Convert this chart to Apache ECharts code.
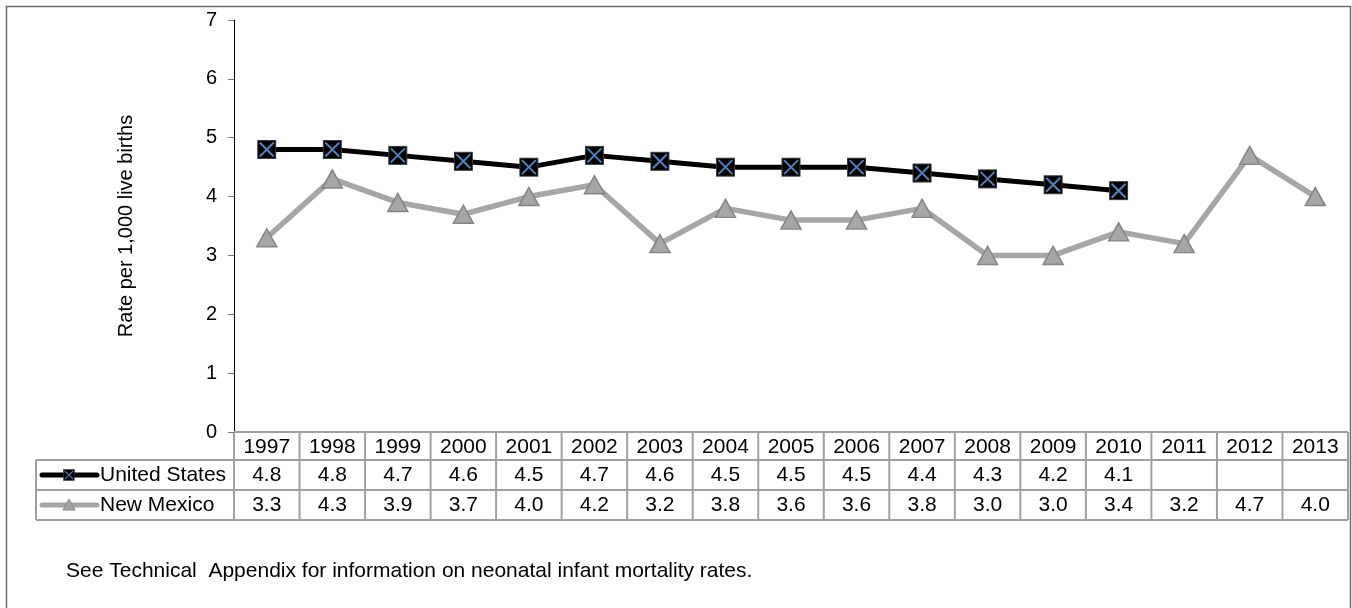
<!DOCTYPE html>
<html><head><meta charset="utf-8">
<script src="https://cdn.jsdelivr.net/npm/echarts@6/dist/echarts.min.js"></script>
<style>html,body{margin:0;padding:0;background:#fff}#c{width:1352px;height:608px}</style>
</head><body><div id="c"></div>
<script>
var years = ['1997','1998','1999','2000','2001','2002','2003','2004','2005','2006','2007','2008','2009','2010','2011','2012','2013'];
var unitedStates = [4.8,4.8,4.7,4.6,4.5,4.7,4.6,4.5,4.5,4.5,4.4,4.3,4.2,4.1,null,null,null];
var newMexico = [3.3,4.3,3.9,3.7,4.0,4.2,3.2,3.8,3.6,3.6,3.8,3.0,3.0,3.4,3.2,4.7,4.0];
var yTicks = {min:0, max:7, interval:1};
var seriesNames = ['United States','New Mexico'];
var yName = 'Rate per 1,000 live births';
var footnote = 'See Technical  Appendix for information on neonatal infant mortality rates.';

var FONT = 'Arial, "Liberation Sans", sans-serif';
var usSvg = "<svg xmlns='http://www.w3.org/2000/svg' width='20' height='20'><rect x='1' y='1' width='18' height='18' fill='black' stroke='#3a3a3a' stroke-width='1'/><path d='M3 3L17 17M17 3L3 17' stroke='#4f81bd' stroke-width='2'/></svg>";
var usSymbol = 'image://data:image/svg+xml;charset=utf-8,' + encodeURIComponent(usSvg);

var chart = echarts.init(document.getElementById('c'), null, {renderer:'canvas'});
var option = {
  animation:false,
  backgroundColor:'#fff',
  grid:{left:234, right:4, top:20, bottom:176, containLabel:false},
  xAxis:{type:'category', data:years, boundaryGap:true,
    axisLine:{show:false}, axisTick:{show:false}, axisLabel:{show:false}, splitLine:{show:false}},
  yAxis:{type:'value', min:yTicks.min, max:yTicks.max, interval:yTicks.interval,
    name:yName, nameLocation:'middle', nameGap:98, nameRotate:90,
    nameTextStyle:{fontFamily:FONT, fontSize:20, color:'#000'},
    axisLine:{show:true, lineStyle:{color:'#000', width:1}},
    axisTick:{show:true, length:6, lineStyle:{color:'#777'}},
    axisLabel:{fontFamily:FONT, fontSize:20, color:'#000', margin:17},
    splitLine:{show:false}},
  series:[
    {name:seriesNames[0], type:'line', data:unitedStates, symbol:usSymbol, symbolSize:20,
      lineStyle:{color:'#000', width:5}, itemStyle:{color:'#000'}, z:3},
    {name:seriesNames[1], type:'line', data:newMexico, symbol:'triangle', symbolSize:[20,18],
      lineStyle:{color:'#a6a6a6', width:5.5}, itemStyle:{color:'#a6a6a6', borderColor:'#858585', borderWidth:1.5}, z:2}
  ]
};
chart.setOption(option);

// build table from axis scale
var x0 = chart.convertToPixel({xAxisIndex:0}, 0);
var x1 = chart.convertToPixel({xAxisIndex:0}, 1);
var w = x1 - x0;
var left = x0 - w/2;
var right = left + w*years.length;
var yTop = chart.convertToPixel({yAxisIndex:0}, 0);
var rH = [yTop, yTop+28, yTop+58, yTop+88];
var legLeft = 36;
var G = [];
var lc = '#a0a0a0';
function hl(xa, xb, y){G.push({type:'line', shape:{x1:xa,y1:y,x2:xb,y2:y}, style:{stroke:lc, lineWidth:2}, z:1});}
function vl(x, ya, yb){G.push({type:'line', shape:{x1:x,y1:ya,x2:x,y2:yb}, style:{stroke:lc, lineWidth:2}, z:1});}
function txt(x, y, s, align, size){G.push({type:'text', x:x, y:y, style:{text:s, fill:'#000', font:(size||21)+'px '+FONT, textAlign:align||'center', textVerticalAlign:'middle'}, z:5});}
hl(left, right, rH[0]);
hl(legLeft, right, rH[1]);
hl(legLeft, right, rH[2]);
hl(legLeft, right, rH[3]);
vl(legLeft, rH[1], rH[3]);
for (var i=0;i<=years.length;i++){ vl(left + i*w, i===0?rH[0]+1:rH[0], rH[3]); }
years.forEach(function(y,i){
  var cx = chart.convertToPixel({xAxisIndex:0}, i);
  txt(cx, (rH[0]+rH[1])/2+1, y);
  if (unitedStates[i]!=null) txt(cx, (rH[1]+rH[2])/2, unitedStates[i].toFixed(1));
  if (newMexico[i]!=null) txt(cx, (rH[2]+rH[3])/2, newMexico[i].toFixed(1));
});
// legend keys
var ly1 = (rH[1]+rH[2])/2, ly2 = (rH[2]+rH[3])/2;
G.push({type:'line', shape:{x1:42,y1:ly1,x2:97,y2:ly1}, style:{stroke:'#000', lineWidth:5, lineCap:'round'}, z:4});
G.push({type:'image', style:{image:usSymbol.replace('image://',''), x:63, y:ly1-6, width:12, height:12}, z:5});
G.push({type:'line', shape:{x1:42,y1:ly2,x2:97,y2:ly2}, style:{stroke:'#a6a6a6', lineWidth:5, lineCap:'round'}, z:4});
G.push({type:'polygon', shape:{points:[[69,ly2-6],[75,ly2+5],[63,ly2+5]]}, style:{fill:'#a6a6a6', stroke:'#858585', lineWidth:1}, z:5});
txt(100, ly1, seriesNames[0], 'left');
txt(100, ly2, seriesNames[1], 'left');
// footnote
G.push({type:'text', x:66, y:571, style:{text:footnote, fill:'#000', font:'21px '+FONT, textAlign:'left', textVerticalAlign:'middle'}, z:5});
// outer frame
G.push({type:'rect', shape:{x:6.5,y:6.5,width:1344,height:620}, style:{fill:null, stroke:'#6e6e6e', lineWidth:1.5}, z:0});
chart.setOption({graphic:G});
</script></body></html>
